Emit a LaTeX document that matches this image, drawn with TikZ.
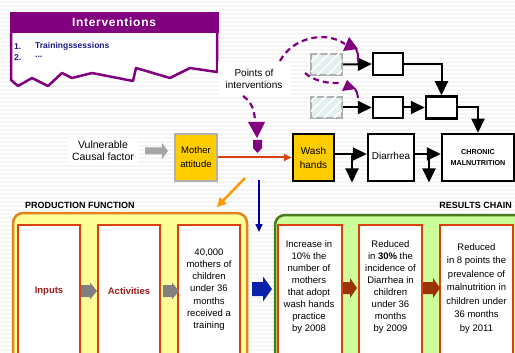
\documentclass[tikz,border=0pt]{standalone}
\usepackage{fontspec}
\setmainfont{Liberation Sans}
\usetikzlibrary{arrows.meta,patterns.meta}

\definecolor{ivpurple}{HTML}{800080}
\definecolor{ivnavy}{HTML}{1A1A8C}
\definecolor{gold}{HTML}{FFCC00}
\definecolor{redline}{HTML}{D9400F}
\definecolor{orangearr}{HTML}{FF9900}
\definecolor{navyline}{HTML}{0000A0}
\definecolor{bluearr}{HTML}{0A22AA}
\definecolor{yfill}{HTML}{FFFF99}
\definecolor{yborder}{HTML}{E8801A}
\definecolor{innerred}{HTML}{D9420B}
\definecolor{gfill}{HTML}{CCFF99}
\definecolor{gborder}{HTML}{4B7B1B}
\definecolor{darkred}{HTML}{A01C1C}
\definecolor{brownarr}{HTML}{993300}
\definecolor{hatchfill}{HTML}{E4F0F0}
\definecolor{hatchborder}{HTML}{B0B0B0}

\newcommand{\setfs}[2]{\fontsize{#1}{#2}\selectfont}
% block arrow: colour, x start, y axis, x tip, half shaft, half head, head length
\newcommand{\blockarr}[7]{%
  \fill[#1] (#2,#3-#5) -- (#4-#7,#3-#5) -- (#4-#7,#3-#6) -- (#4,#3)
    -- (#4-#7,#3+#6) -- (#4-#7,#3+#5) -- (#2,#3+#5) -- cycle;}

\begin{document}
\begin{tikzpicture}[x=1pt,y=-1pt,
  bigarr/.style={draw=black, line width=2pt, -{Triangle[length=14pt,width=13pt]}},
  blackbox/.style={draw=black, line width=2.5pt, fill=white, inner sep=0pt},
  hatchbox/.style={draw=hatchborder, line width=2pt, fill=hatchfill, inner sep=0pt,
    postaction={pattern={Lines[angle=45,distance=7pt,line width=1.6pt]}, pattern color=white}},
  txt/.style={inner sep=0pt, align=center, text=black},
  dashpurple/.style={draw=ivpurple, line width=2.2pt, dash pattern=on 6pt off 4pt},
  container/.style={rounded corners=10pt, line width=2.5pt, inner sep=0pt},
  innerbox/.style={draw=innerred, line width=2.2pt, fill=white, inner sep=0pt,
    minimum height=150pt},
]
\useasboundingbox (0,0) rectangle (515,353);
\clip (0,0) rectangle (515,353);

% faint striped backdrop
\fill[white] (0,0) rectangle (515,353);
\foreach \yy in {2,6,...,352} \draw[black!4, line width=1.2pt] (0,\yy) -- (515,\yy);

% ---------- interventions panel ----------
\filldraw[fill=white, draw=ivpurple, line width=2.5pt, line join=round]
  (11,33) -- (11,80) -- (18,86) -- (32,78) -- (48,86) -- (62,73) -- (72,78)
  -- (92,73) -- (133,81) -- (136,68) -- (170,78) -- (190,68) -- (217,72) -- (217,33);
\node[fill=ivpurple, minimum width=209pt, minimum height=21pt, inner sep=0pt,
  text=white, font=\setfs{12}{14}\bfseries\addfontfeatures{LetterSpace=6}]
  (ivhead) at (114,22.5) {Interventions};
\node[txt, anchor=west, text=ivnavy, font=\setfs{8.5}{10}\bfseries] (it1n) at (14,46.5) {1.};
\node[txt, anchor=west, text=ivnavy, font=\setfs{8.5}{10}\bfseries] (it1) at (35,46.5) {Trainingssessions};
\node[txt, anchor=west, text=ivnavy, font=\setfs{8.5}{10}\bfseries] (it2n) at (14,57.5) {2.};
\node[txt, anchor=west, text=ivnavy, font=\setfs{8.5}{10}\bfseries] (it2) at (35,57) {...};

% ---------- points of intervention ----------
\node[txt, fill=white, minimum width=72pt, minimum height=34pt, font=\setfs{10}{12}]
  (poi) at (254,79) {Points of\\interventions};

% upper pathway boxes
\node[hatchbox, minimum width=31pt, minimum height=21pt] (h1) at (326.5,64.5) {};
\node[hatchbox, minimum width=31pt, minimum height=21pt] (h2) at (326.5,107.5) {};
\node[blackbox, minimum width=30pt, minimum height=22pt] (ba) at (388,64) {};
\node[blackbox, minimum width=30pt, minimum height=21pt] (bb) at (388,107.5) {};
\node[blackbox, minimum width=31pt, minimum height=22pt] (bc) at (441.5,107.5) {};

% main causal chain
\node[txt, fill=white, inner xsep=4pt, inner ysep=3pt, font=\setfs{10.5}{11.5}]
  (vuln) at (103,150.5) {Vulnerable\\Causal factor};
\node[draw=hatchborder, line width=2.5pt, fill=gold, minimum width=42pt, minimum height=47pt,
  inner sep=0pt, align=center, font=\setfs{9.5}{14}] (mother) at (196,157.5) {Mother\\attitude};
\node[draw=black, line width=2.5pt, fill=gold, minimum width=41pt, minimum height=47pt,
  inner sep=0pt, align=center, font=\setfs{10}{14}] (wash) at (313.5,157.5) {Wash\\hands};
\node[blackbox, minimum width=46pt, minimum height=47pt, font=\setfs{10}{12}]
  (diarrhea) at (391,157.5) {\raisebox{3pt}{Diarrhea}};
\node[blackbox, minimum width=72pt, minimum height=47pt, align=center,
  font=\setfs{7.2}{10.5}\bfseries] (chronic) at (478,157.5) {CHRONIC\\MALNUTRITION};

% connectors in the upper pathway
\draw[bigarr] (h1.east) -- (ba.west);
\draw[bigarr] (h2.east) -- (bb.west);
\draw[bigarr] (bb.east) -- (bc.west);
\draw[bigarr] (ba.east) -| (bc.north);
\draw[bigarr] (bc.east) -| (chronic.north);

% connectors in the main chain
\blockarr{black!35}{145}{151}{168}{3.5}{8}{6}
\draw[draw=redline, line width=2pt, -{Triangle[length=8pt,width=7pt]}] (mother.east) -- (wash.west);
\draw[bigarr] ([yshift=3.5pt]wash.east) -- ([yshift=3.5pt]diarrhea.west);
\draw[bigarr] ([yshift=3.5pt]diarrhea.east) -- ([yshift=3.5pt]chronic.west);
\coordinate (wd1) at (352,154);
\coordinate (wd2) at (352,182.5);
\coordinate (dc1) at (429,154);
\coordinate (dc2) at (429,182.5);
\draw[bigarr] (wd1) -- (wd2);
\draw[bigarr] (dc1) -- (dc2);

% purple intervention markers
\draw[dashpurple] (280,61) .. controls (292,38) and (325,30) .. (345,44);
\fill[ivpurple] (349,37) -- (358,49) -- (343,51) -- cycle;
\draw[ivpurple, line width=2pt] (356,49) .. controls (358,53) .. (358,61);
\draw[dashpurple] (305,73) .. controls (312,80) and (328,84) .. (339,83);
\fill[ivpurple] (347,80) -- (356,89) -- (342,91) -- cycle;
\draw[ivpurple, line width=2pt] (355,89) .. controls (357,92) .. (358,98);
\draw[dashpurple] (243,96) .. controls (250,101) and (254,107) .. (255,120);
\fill[ivpurple] (248,122) -- (265,122) -- (257,138) -- cycle;
\fill[ivpurple] (253,140) -- (262,140) -- (262,148) -- (257.5,153) -- (253,148) -- cycle;

% links down to the lower panels
\coordinate (or1) at (245,178);
\coordinate (or2) at (217,207);
\draw[draw=orangearr, line width=2.5pt, -{Triangle[length=9pt,width=9pt]}] (or1) -- (or2);
\coordinate (bl1) at (259,180);
\coordinate (bl2) at (259,232);
\draw[draw=navyline, line width=1.5pt, -{Triangle[length=8pt,width=7pt]}] (bl1) -- (bl2);

% ---------- production function ----------
\node[txt, anchor=west, font=\setfs{9}{11}\bfseries] (pftitle) at (25,205) {PRODUCTION FUNCTION};
\node[container, draw=yborder, fill=yfill, minimum width=234pt, minimum height=167pt]
  (prodfn) at (130,296.5) {};
\node[innerbox, minimum width=62pt] (pin) at (49,300) {};
\node[innerbox, minimum width=62pt] (pact) at (129,300) {};
\node[innerbox, minimum width=62pt] (pout) at (209,300) {};
\node[txt, text=darkred, font=\setfs{9.5}{11}\bfseries] (pintxt) at (49,291) {Inputs};
\node[txt, text=darkred, font=\setfs{9.5}{11}\bfseries] (pacttxt) at (129,291) {Activities};
\node[txt, font=\setfs{9.5}{12.2}] (pouttxt) at (209,289.5)
  {40,000\\mothers of\\children\\under 36\\months\\received a\\training};
\blockarr{black!50}{81}{291}{97}{6}{8.5}{7}
\blockarr{black!50}{163}{291}{179}{6}{8.5}{7}

% ---------- results chain ----------
\node[txt, anchor=east, font=\setfs{9}{11}\bfseries] (rctitle) at (512,205) {RESULTS CHAIN};
\node[container, draw=gborder, fill=gfill, minimum width=250pt, minimum height=165pt]
  (results) at (400,297.5) {};
\node[innerbox, minimum width=64pt] (r1) at (310,300) {};
\node[innerbox, minimum width=63pt] (r2) at (390.5,300) {};
\node[innerbox, minimum width=73pt] (r3) at (476.5,300) {};
\node[txt, font=\setfs{9.5}{12}] (r1txt) at (309,287)
  {Increase in\\10\% the\\number of\\mothers\\that adopt\\wash hands\\practice\\by 2008};
\node[txt, font=\setfs{9.5}{12}] (r2txt) at (390.5,287)
  {Reduced\\in \textbf{30\%} the\\incidence of\\Diarrhea in\\children\\under 36\\months\\by 2009};
\node[txt, font=\setfs{9.5}{13.5}] (r3txt) at (476.5,288.5)
  {Reduced\\in 8 points the\\prevalence of\\malnutrition in\\children under\\36 months\\by 2011};
\blockarr{brownarr}{343}{288}{357}{6}{10}{7}
\blockarr{brownarr}{423}{288}{440}{6}{10}{7}
\blockarr{bluearr}{252}{289}{272}{7}{12.5}{9}
\end{tikzpicture}
\end{document}
